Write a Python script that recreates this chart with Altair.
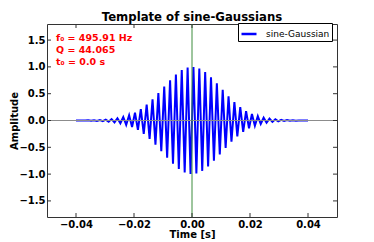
import altair as alt
import pandas as pd

# extremum times (ms, positive side)
ext_t_ms = [0.50, 1.51, 2.52, 3.53, 4.54, 5.55, 6.55, 7.56, 8.57, 9.58,
            10.59, 11.60, 12.60, 13.61, 14.62, 15.63, 16.64, 17.65, 18.65, 19.66,
            20.67, 21.68, 22.69, 23.70, 24.70, 25.71, 26.72, 27.73, 28.74, 29.75,
            30.75, 31.76, 32.77, 33.78, 34.79, 35.80, 36.80, 37.81, 38.82, 39.83]

# signed extremum amplitudes for t > 0 (in the order of ext_t_ms)
right_amp = [0.999, -0.989, 0.969, -0.940, 0.902, -0.857, 0.807, -0.751, 0.693, -0.632,
             0.571, -0.511, 0.452, -0.396, 0.343, -0.295, 0.251, -0.211, 0.176, -0.145,
             0.120, -0.098, 0.080, -0.065, 0.052, -0.042, 0.034, -0.027, 0.022, -0.017,
             0.013, -0.010, 0.008, -0.006, 0.004, -0.003, 0.002, -0.001, 0.001, 0.000]

# signed extremum amplitudes for t < 0 (at -ext_t_ms, same order)
left_amp = [-0.999, 0.989, -0.969, 0.940, -0.902, 0.857, -0.807, 0.751, -0.693, 0.632,
            -0.571, 0.511, -0.452, 0.396, -0.343, 0.295, -0.251, 0.211, -0.176, 0.145,
            -0.120, 0.098, -0.080, 0.065, -0.052, 0.042, -0.034, 0.027, -0.022, 0.017,
            -0.013, 0.010, -0.008, 0.006, -0.004, 0.003, -0.002, 0.001, -0.001, 0.000]

start_ms, end_ms = -40.0, 40.0

x_ticks = [-0.04, -0.02, 0.0, 0.02, 0.04]
y_ticks = [-1.5, -1.0, -0.5, 0.0, 0.5, 1.0, 1.5]

series_name = "sine-Gaussian"
annotations = ["f\u2080 = 495.91 Hz", "Q = 44.065", "t\u2080 = 0.0 s"]

# ---- build table ----
t_ms = [start_ms] + [-v for v in reversed(ext_t_ms)] + [0.0] + ext_t_ms + [end_ms]
amp = [0.0] + list(reversed(left_amp)) + [0.0] + right_amp + [0.0]
df = pd.DataFrame({"t": [v / 1000.0 for v in t_ms], "h": amp, "series": series_name})

FONT = "DejaVu Sans"
W, H = 290, 193

xs = alt.Scale(domain=[-0.05, 0.05], nice=False, zero=False)
ys = alt.Scale(domain=[-1.8, 1.8], nice=False, zero=False)

x_axis = alt.Axis(values=x_ticks, format=".2f", title="Time [s]", ticks=False,
                  domain=False, grid=False, labelPadding=2, titlePadding=0,
                  labelOverlap=False)
y_axis = alt.Axis(values=y_ticks, format=".1f", title="Amplitude", ticks=False,
                  domain=False, grid=False, labelPadding=2, labelOverlap=False,
                  titleX=-33, titleY=H / 2, titleAngle=270,
                  titleBaseline="middle", titleAlign="center")


def X(field="t"):
    return alt.X(f"{field}:Q", scale=xs, axis=x_axis, title="Time [s]")


def Y(field="h"):
    return alt.Y(f"{field}:Q", scale=ys, axis=y_axis, title="Amplitude")


wave = alt.Chart(df).mark_line(strokeWidth=2, clip=True).encode(
    x=X(), y=Y(),
    color=alt.Color("series:N",
                    scale=alt.Scale(domain=[series_name], range=["#0000ff"]),
                    legend=alt.Legend(title=None, orient="none", legendX=191, legendY=-1,
                                      symbolType="stroke", symbolSize=225,
                                      symbolStrokeWidth=2.5, labelFontSize=9,
                                      labelFont=FONT, labelOffset=8, padding=2,
                                      strokeColor="#000000", fillColor="#ffffff",
                                      labelColor="#000000")),
)

hline = alt.Chart(pd.DataFrame({"h": [0.0]})).mark_rule(
    color="#8c8c8c", strokeWidth=1).encode(y=Y())
vline = alt.Chart(pd.DataFrame({"t": [0.0]})).mark_rule(
    color="#3c8c3c", strokeWidth=1).encode(x=X())

xt = pd.DataFrame({"t": x_ticks})
yt = pd.DataFrame({"h": y_ticks})
TK = "#333333"
tick_b = alt.Chart(xt).mark_rule(color=TK).encode(x=X(), y=alt.value(H), y2=alt.value(H - 4))
tick_t = alt.Chart(xt).mark_rule(color=TK).encode(x=X(), y=alt.value(0), y2=alt.value(4))
tick_l = alt.Chart(yt).mark_rule(color=TK).encode(y=Y(), x=alt.value(0), x2=alt.value(4))
tick_r = alt.Chart(yt).mark_rule(color=TK).encode(y=Y(), x=alt.value(W), x2=alt.value(W - 4))

ann_layers = []
for label, ypix in zip(annotations, [14, 26, 38]):
    ann_layers.append(
        alt.Chart(pd.DataFrame({"label": [label]})).mark_text(
            align="left", baseline="middle", color="#ff0000", fontWeight="bold",
            fontSize=9.5, font=FONT
        ).encode(text="label:N", x=alt.value(9), y=alt.value(ypix))
    )

chart = alt.layer(wave, hline, vline, tick_b, tick_t, tick_l, tick_r, *ann_layers).properties(
    width=W, height=H,
    title=alt.Title("Template of sine-Gaussians", fontSize=11.7, fontWeight="bold",
                    font=FONT, anchor="middle", offset=-1, color="#000000"),
    autosize=alt.AutoSizeParams(type="none"),
    padding={"left": 39, "top": 16, "right": 29, "bottom": 22},
).configure_view(
    stroke="#333333", strokeWidth=1
).configure_axis(
    labelFont=FONT, labelFontSize=10, labelFontWeight="bold", labelColor="#000000",
    titleFont=FONT, titleFontSize=10, titleFontWeight="bold", titleColor="#000000",
)

chart.save("out.html", embed_options={"renderer": "svg", "actions": False})
